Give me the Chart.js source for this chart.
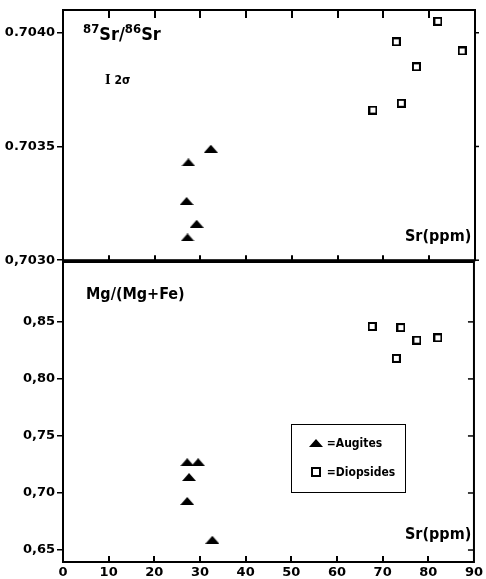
<!DOCTYPE html>
<html>
<head>
<meta charset="utf-8">
<script src="https://cdn.jsdelivr.net/npm/chart.js@4"></script>
<style>
  html, body { margin: 0; padding: 0; background: #fff; }
  #wrap { position: relative; width: 486px; height: 579px; overflow: hidden; background: #fff; }
  canvas { position: absolute; left: 0; }
  .lbl { position: absolute; font-family: 'DejaVu Sans Condensed', 'DejaVu Sans', sans-serif; font-weight: bold; color: #000; white-space: nowrap; line-height: 1; }
  .lbl sup { font-size: 13px; vertical-align: 7px; }
  #legend { position: absolute; left: 291px; top: 424px; width: 113px; height: 67px; border: 1.5px solid #000; }
  #legend .row { position: absolute; left: 17px; font-family: 'DejaVu Sans Condensed', 'DejaVu Sans', sans-serif; font-weight: bold; font-size: 12px; white-space: nowrap; }
  .tri { display: inline-block; width: 0; height: 0; border-left: 7px solid transparent; border-right: 7px solid transparent; border-bottom: 8px solid #000; vertical-align: 0px; }
  .sq { display: inline-block; width: 6px; height: 6px; border: 2px solid #000; vertical-align: -1px; margin-left: 2px; margin-right: 2px; }
</style>
</head>
<body>
<div id="wrap">
  <canvas id="srChart" width="486" height="270" style="top:0px"></canvas>
  <canvas id="mgChart" width="486" height="329" style="top:250px"></canvas>

  <div class="lbl" style="left:83px; top:22px; font-size:18px;"><sup>87</sup>Sr/<sup>86</sup>Sr</div>
  <div class="lbl" style="left:105px; top:74px; font-size:12px;"><span style="font-family:'DejaVu Serif',serif;">I</span> 2σ</div>
  <div class="lbl" style="left:405px; top:228px; font-size:16px;">Sr(ppm)</div>
  <div class="lbl" style="left:86px; top:286px; font-size:16px;">Mg/(Mg+Fe)</div>
  <div class="lbl" style="left:405px; top:526px; font-size:16px;">Sr(ppm)</div>

  <div id="legend">
    <div class="row" style="top:11px;"><span class="tri"></span> =Augites</div>
    <div class="row" style="top:40px;"><span class="sq"></span> =Diopsides</div>
  </div>
</div>

<script>
// x axis (Sr ppm)
const xTicks = [0, 10, 20, 30, 40, 50, 60, 70, 80, 90];

// upper panel: 87Sr/86Sr
const srTicks = [0.7030, 0.7035, 0.7040];
const srTickLabels = ['0,7030', '0.7035', '0.7040'];
const augSrX = [32.3, 27.4, 27.0, 29.2, 27.2];
const augSrRatio = [0.70349, 0.70343, 0.70326, 0.70316, 0.70310];
const diopSrX = [81.9, 72.8, 87.2, 77.2, 73.9, 67.7];
const diopSrRatio = [0.70405, 0.70396, 0.70392, 0.70385, 0.70369, 0.70366];

// lower panel: Mg/(Mg+Fe)
const mgTicks = [0.65, 0.70, 0.75, 0.80, 0.85];
const mgTickLabels = ['0,65', '0,70', '0,75', '0,80', '0,85'];
const augMgX = [27.2, 29.6, 27.6, 27.2, 32.7];
const augMgVal = [0.727, 0.727, 0.714, 0.693, 0.659];
const diopMgX = [67.7, 74.0, 77.5, 82.1, 73.0];
const diopMgVal = [0.846, 0.845, 0.834, 0.836, 0.818];

function toPoints(xs, ys) {
  return xs.map((x, i) => ({ x: x, y: ys[i] }));
}

// marker images
function makeTriangle() {
  const c = document.createElement('canvas');
  c.width = 14; c.height = 8;
  const g = c.getContext('2d');
  g.fillStyle = '#000';
  g.beginPath();
  g.moveTo(0, 8); g.lineTo(7, 0); g.lineTo(14, 8);
  g.closePath();
  g.fill();
  return c;
}
function makeSquare() {
  const c = document.createElement('canvas');
  c.width = 9; c.height = 9;
  const g = c.getContext('2d');
  g.strokeStyle = '#000';
  g.lineWidth = 2;
  g.strokeRect(1, 1, 7, 7);
  return c;
}
const triImg = makeTriangle();
const sqImg = makeSquare();

const tickFont = { family: "'DejaVu Sans', sans-serif", size: 13, weight: 'bold' };

// box + inward tick marks
const framePlugin = {
  id: 'frame',
  afterDraw(chart, args, opts) {
    const { ctx, chartArea: a, scales } = chart;
    ctx.save();
    ctx.strokeStyle = '#000';
    ctx.lineWidth = 2;
    xTicks.forEach(v => {
      if (v === 0 || v === 90) return;
      const px = Math.round(scales.x.getPixelForValue(v));
      ctx.beginPath();
      if (opts.topTick) { ctx.moveTo(px, a.top); ctx.lineTo(px, a.top + opts.topTick); }
      ctx.moveTo(px, a.bottom); ctx.lineTo(px, a.bottom - opts.bottomTick);
      ctx.stroke();
    });
    ctx.lineWidth = 1.5;
    opts.yTicks.forEach(v => {
      const py = scales.y.getPixelForValue(v);
      ctx.beginPath();
      ctx.moveTo(a.right, py); ctx.lineTo(a.right + opts.rightTick, py);
      ctx.stroke();
    });
    ctx.lineWidth = 2;
    ctx.strokeRect(a.left, a.top, a.right - a.left, a.bottom - a.top);
    ctx.restore();
  }
};

function yScale(min, max, ticks, labels) {
  return {
    type: 'linear',
    min: min,
    max: max,
    afterBuildTicks: s => { s.ticks = ticks.map(v => ({ value: v })); },
    afterFit: s => { s.width = 63; },
    ticks: {
      color: '#000',
      font: tickFont,
      padding: 2,
      callback: (v) => labels[ticks.indexOf(v)]
    },
    grid: { drawOnChartArea: false, tickLength: 6, color: '#000', lineWidth: 1.5 },
    border: { display: true, color: '#000', width: 2 }
  };
}

const commonOptions = {
  responsive: false,
  animation: false,
  plugins: { legend: { display: false }, tooltip: { enabled: false } }
};

new Chart(document.getElementById('srChart'), {
  type: 'scatter',
  data: {
    datasets: [
      { label: 'Augites', data: toPoints(augSrX, augSrRatio), pointStyle: triImg },
      { label: 'Diopsides', data: toPoints(diopSrX, diopSrRatio), pointStyle: sqImg }
    ]
  },
  options: {
    ...commonOptions,
    layout: { padding: { top: 10, right: 11, bottom: 8, left: 0 } },
    plugins: { ...commonOptions.plugins, frame: { yTicks: srTicks, rightTick: 4, topTick: 8, bottomTick: 5 } },
    scales: {
      x: { type: 'linear', min: 0, max: 90, display: false },
      y: yScale(0.70300, 0.70410, srTicks, srTickLabels)
    }
  },
  plugins: [framePlugin]
});

new Chart(document.getElementById('mgChart'), {
  type: 'scatter',
  data: {
    datasets: [
      { label: 'Augites', data: toPoints(augMgX, augMgVal), pointStyle: triImg },
      { label: 'Diopsides', data: toPoints(diopMgX, diopMgVal), pointStyle: sqImg }
    ]
  },
  options: {
    ...commonOptions,
    layout: { padding: { top: 12, right: 11, bottom: 0, left: 0 } },
    plugins: { ...commonOptions.plugins, frame: { yTicks: mgTicks, rightTick: -6, topTick: 0, bottomTick: 6 } },
    scales: {
      x: {
        type: 'linear',
        min: 0,
        max: 90,
        afterBuildTicks: s => { s.ticks = xTicks.map(v => ({ value: v })); },
        afterFit: s => { s.height = 17; },
        ticks: { color: '#000', font: tickFont, padding: 3, maxRotation: 0 },
        grid: { drawOnChartArea: false, drawTicks: false },
        border: { display: true, color: '#000', width: 2 }
      },
      y: yScale(0.6395, 0.9025, mgTicks, mgTickLabels)
    }
  },
  plugins: [framePlugin]
});
</script>
</body>
</html>
